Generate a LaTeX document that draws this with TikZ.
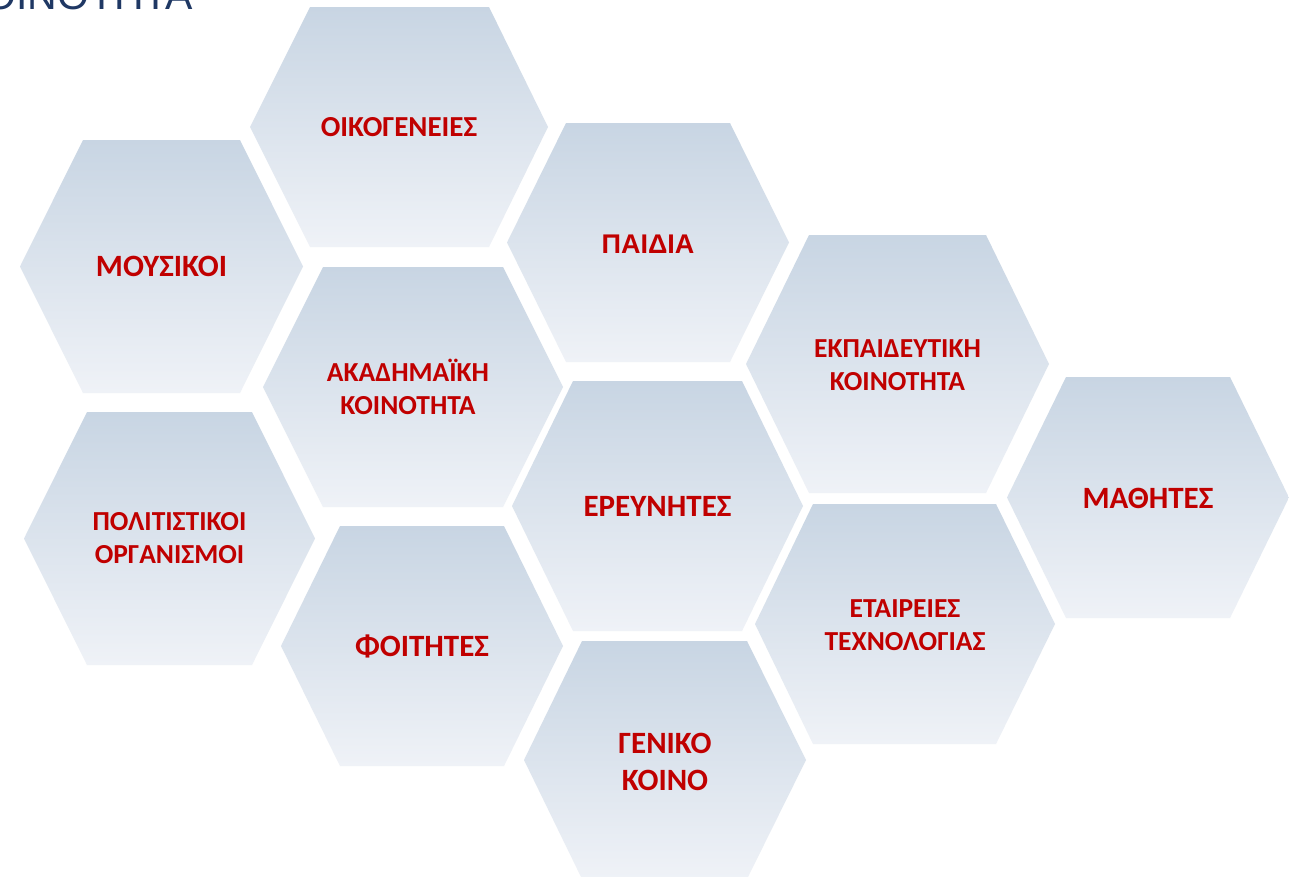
\documentclass[tikz,border=0pt]{standalone}
\usepackage{fontspec}
\newfontfamily\calfont{Carlito}
\newfontfamily\arialfont{Liberation Sans}
\definecolor{hextop}{RGB}{200,213,227}
\definecolor{hexbot}{RGB}{239,242,247}
\definecolor{labelred}{RGB}{192,0,0}
\definecolor{titleblue}{RGB}{31,56,100}
\tikzset{
  hexshade/.style={top color=hextop, bottom color=hexbot, draw=none},
  hexlabel/.style={text=labelred, align=center, inner sep=0pt, font=\calfont\bfseries\fontsize{31}{37}\selectfont},
  twoline/.style={font=\calfont\bfseries\fontsize{27.5}{33}\selectfont},
}
\begin{document}
\begin{tikzpicture}[x=1pt,y=-1pt]
\useasboundingbox (0,0) rectangle (1289,876);
\fill[white] (0,0) rectangle (1289,876);
% title (cut at the top)
\node[anchor=base west, inner sep=0pt, text=titleblue, font=\arialfont\fontsize{41}{49}\selectfont] (title) at (-42,9) {ΚΟΙΝΟΤΗΤΑ};
% hexagons
\path[hexshade] (20,266.5) -- (83,140) -- (240,140) -- (303,266.5) -- (240,393) -- (83,393) -- cycle;
\node[hexlabel] (mousikoi) at (161.5,266.5) {ΜΟΥΣΙΚΟΙ};

\path[hexshade] (24,538.5) -- (87,412) -- (252,412) -- (315,538.5) -- (252,665) -- (87,665) -- cycle;
\node[hexlabel, twoline] (politistikoi) at (169.5,538.5) {ΠΟΛΙΤΙΣΤΙΚΟΙ\\ΟΡΓΑΝΙΣΜΟΙ};

\path[hexshade] (250,127) -- (310,7) -- (489,7) -- (548,127) -- (489,247) -- (310,247) -- cycle;
\node[hexlabel, font=\calfont\bfseries\fontsize{29}{35}\selectfont] (oikogeneies) at (399,127) {ΟΙΚΟΓΕΝΕΙΕΣ};

\path[hexshade] (263,387) -- (323,267) -- (503,267) -- (563,387) -- (503,507) -- (323,507) -- cycle;
\node[hexlabel, twoline] (akadimaiki) at (408,387) {ΑΚΑΔΗΜΑΪΚΗ\\ΚΟΙΝΟΤΗΤΑ};

\path[hexshade] (281,646) -- (340,526) -- (504,526) -- (563,646) -- (504,766) -- (340,766) -- cycle;
\node[hexlabel] (foitites) at (422,646) {ΦΟΙΤΗΤΕΣ};

\path[hexshade] (507,242.5) -- (566,123) -- (730,123) -- (789,242.5) -- (730,362) -- (566,362) -- cycle;
\node[hexlabel, font=\arialfont\bfseries\fontsize{27}{33}\selectfont] (paidia) at (648,244) {ΠΑΙΔΙΑ};

\path[hexshade] (512,506) -- (573,381) -- (742,381) -- (803,506) -- (742,631) -- (573,631) -- cycle;
\node[hexlabel] (ereunites) at (657.5,506) {ΕΡΕΥΝΗΤΕΣ};

\path[hexshade] (524,760) -- (582,641) -- (747,641) -- (806,760) -- (747,879) -- (582,879) -- cycle;
\node[hexlabel, font=\calfont\bfseries\fontsize{31}{37}\selectfont] (geniko) at (665,762) {ΓΕΝΙΚΟ\\ΚΟΙΝΟ};

\path[hexshade] (746,364) -- (809,235) -- (986,235) -- (1049,364) -- (986,493) -- (809,493) -- cycle;
\node[hexlabel, twoline] (ekpaideutiki) at (897.5,365) {ΕΚΠΑΙΔΕΥΤΙΚΗ\\ΚΟΙΝΟΤΗΤΑ};

\path[hexshade] (755,624) -- (813,504) -- (996,504) -- (1055,624) -- (996,744) -- (813,744) -- cycle;
\node[hexlabel, twoline] (etaireies) at (905,625) {ΕΤΑΙΡΕΙΕΣ\\ΤΕΧΝΟΛΟΓΙΑΣ};

\path[hexshade] (1007,497.5) -- (1066,377) -- (1230,377) -- (1289,497.5) -- (1230,618) -- (1066,618) -- cycle;
\node[hexlabel] (mathites) at (1148,498) {ΜΑΘΗΤΕΣ};
\end{tikzpicture}
\end{document}
